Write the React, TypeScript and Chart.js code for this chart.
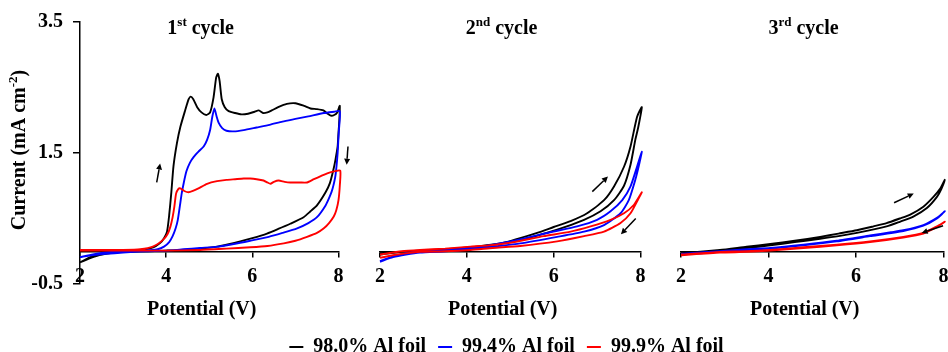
import React, { useEffect, useRef } from "react";
import { Chart, registerables } from "chart.js";

Chart.register(...registerables);

const FONT = '"Liberation Serif", "Times New Roman", serif';

// ---------------- data ----------------
const SERIES_LABELS = ["98.0% Al foil", "99.4% Al foil", "99.9% Al foil"];
const SERIES_COLORS = ["#000000", "#0000ff", "#ff0000"];
const CYCLE_TITLES: [string, string, string][] = [
  ["1", "st", " cycle"],
  ["2", "nd", " cycle"],
  ["3", "rd", " cycle"],
];
const X_AXIS_TITLE = "Potential (V)";
const Y_AXIS_TITLE: [string, string, string] = ["Current (mA cm", "-2", ")"];
const X_MIN = 2;
const X_MAX = 8;
const X_STEP = 2;
const Y_MIN = -0.5;
const Y_MAX = 3.5;
const Y_STEP = 2;
// title anchor in data units [potential, current]
const TITLE_ANCHOR = [4.8, 3.31];

// 1st cycle  [potential (V), current (mA cm-2)]
const cycle1_980: number[][] = [
  [2.0, -0.17], [2.2, -0.1], [2.4, -0.05], [2.7, -0.02], [3.0, 0.0], [3.4, 0.02], [3.7, 0.06],
  [3.85, 0.12], [3.95, 0.2], [4.02, 0.3], [4.07, 0.55], [4.12, 0.9], [4.17, 1.3], [4.25, 1.65],
  [4.33, 1.9], [4.44, 2.15], [4.52, 2.32], [4.57, 2.36], [4.63, 2.32], [4.72, 2.2], [4.82, 2.12],
  [4.93, 2.08], [5.02, 2.12], [5.1, 2.35], [5.16, 2.65], [5.2, 2.71], [5.24, 2.6], [5.29, 2.32],
  [5.36, 2.2], [5.45, 2.14], [5.6, 2.11], [5.75, 2.09], [5.9, 2.1], [6.05, 2.13], [6.15, 2.15],
  [6.25, 2.11], [6.35, 2.12], [6.45, 2.15], [6.6, 2.2], [6.8, 2.25], [7.0, 2.26], [7.2, 2.22],
  [7.35, 2.18], [7.5, 2.17], [7.65, 2.15], [7.75, 2.1], [7.82, 2.07], [7.9, 2.08], [7.97, 2.12],
  [8.03, 2.22],
  [8.01, 1.9], [7.98, 1.6], [7.93, 1.4], [7.88, 1.24], [7.8, 1.04], [7.7, 0.9], [7.5, 0.7],
  [7.35, 0.61], [7.19, 0.52], [6.88, 0.42], [6.6, 0.34], [6.34, 0.27], [6.0, 0.2], [5.72, 0.15],
  [5.4, 0.1], [5.18, 0.07], [4.79, 0.04], [4.4, 0.02], [4.0, 0.01], [3.5, 0.0], [3.0, -0.01],
  [2.6, -0.04], [2.3, -0.09], [2.0, -0.17],
];
const cycle1_994: number[][] = [
  [2.0, -0.09], [2.3, -0.05], [2.6, -0.02], [3.0, 0.0], [3.5, 0.01], [3.8, 0.03], [3.95, 0.07],
  [4.07, 0.14], [4.15, 0.23], [4.22, 0.35], [4.27, 0.48], [4.32, 0.7], [4.36, 0.88], [4.41, 1.05],
  [4.47, 1.22], [4.55, 1.35], [4.64, 1.44], [4.75, 1.52], [4.87, 1.6], [4.95, 1.7], [5.02, 1.85],
  [5.07, 2.05], [5.12, 2.18], [5.17, 2.06], [5.22, 1.96], [5.3, 1.88], [5.4, 1.84], [5.57, 1.83],
  [5.8, 1.85], [6.1, 1.89], [6.4, 1.93], [6.7, 1.98], [7.0, 2.02], [7.3, 2.06], [7.66, 2.11],
  [7.9, 2.13], [8.03, 2.14],
  [8.01, 1.85], [7.98, 1.5], [7.93, 1.16], [7.86, 0.95], [7.8, 0.84], [7.7, 0.7], [7.5, 0.52],
  [7.3, 0.43], [7.04, 0.35], [6.7, 0.28], [6.38, 0.22], [5.95, 0.16], [5.57, 0.11], [5.2, 0.07],
  [4.79, 0.05], [4.4, 0.03], [4.0, 0.01], [3.5, 0.0], [3.0, -0.02], [2.6, -0.04], [2.3, -0.06],
  [2.0, -0.09],
];
const cycle1_999: number[][] = [
  [2.0, 0.02], [2.5, 0.02], [3.0, 0.02], [3.4, 0.03], [3.69, 0.07], [3.92, 0.17], [4.03, 0.26],
  [4.1, 0.38], [4.15, 0.52], [4.19, 0.68], [4.23, 0.88], [4.28, 0.95], [4.33, 0.96], [4.42, 0.92],
  [4.52, 0.9], [4.62, 0.92], [4.75, 0.96], [4.95, 1.03], [5.18, 1.07], [5.4, 1.09], [5.6, 1.1],
  [5.8, 1.11], [5.95, 1.11], [6.1, 1.1], [6.26, 1.08], [6.35, 1.05], [6.42, 1.03], [6.5, 1.06],
  [6.61, 1.08], [6.75, 1.06], [6.88, 1.05], [7.1, 1.05], [7.27, 1.05], [7.43, 1.1], [7.6, 1.15],
  [7.74, 1.19], [7.9, 1.22], [8.04, 1.23],
  [8.03, 1.0], [8.0, 0.78], [7.95, 0.63], [7.89, 0.53], [7.78, 0.43], [7.66, 0.35], [7.5, 0.28],
  [7.27, 0.22], [7.0, 0.16], [6.73, 0.12], [6.35, 0.08], [5.95, 0.06], [5.4, 0.04], [4.79, 0.02],
  [4.0, 0.01], [3.0, 0.01], [2.0, 0.01],
];

// 2nd cycle
const cycle2_980: number[][] = [
  [2.0, -0.03], [2.5, -0.01], [2.92, 0.0], [3.5, 0.03], [4.08, 0.06], [4.85, 0.13], [5.62, 0.28],
  [6.0, 0.37], [6.39, 0.46], [6.77, 0.58], [7.16, 0.78], [7.39, 0.99], [7.62, 1.29], [7.77, 1.6],
  [7.92, 2.05], [8.03, 2.2],
  [7.95, 1.9], [7.88, 1.7], [7.77, 1.32], [7.62, 1.0], [7.39, 0.78], [7.08, 0.61], [6.7, 0.48],
  [6.08, 0.33], [5.23, 0.17], [4.6, 0.1], [4.08, 0.06], [3.5, 0.03], [2.92, 0.01], [2.5, -0.01],
  [2.0, -0.05],
];
const cycle2_994: number[][] = [
  [2.0, -0.15], [2.3, -0.08], [2.6, -0.03], [2.92, 0.0], [3.5, 0.02], [4.08, 0.05], [4.6, 0.1],
  [5.23, 0.18], [5.92, 0.29], [6.54, 0.38], [7.0, 0.48], [7.31, 0.61], [7.58, 0.78], [7.77, 0.99],
  [7.92, 1.29], [8.03, 1.52],
  [7.96, 1.3], [7.88, 1.09], [7.73, 0.78], [7.54, 0.58], [7.16, 0.4], [6.7, 0.3], [6.08, 0.22],
  [5.23, 0.12], [4.6, 0.07], [4.08, 0.03], [3.5, 0.0], [2.92, -0.02], [2.6, -0.05], [2.3, -0.09],
  [2.0, -0.16],
];
const cycle2_999: number[][] = [
  [2.0, -0.1], [2.4, -0.05], [2.92, -0.01], [3.5, 0.0], [4.08, 0.02], [4.6, 0.05], [5.23, 0.08],
  [6.08, 0.15], [6.7, 0.23], [7.16, 0.3], [7.54, 0.43], [7.77, 0.58], [7.92, 0.76], [8.03, 0.9],
  [7.85, 0.71], [7.62, 0.58], [7.31, 0.48], [6.85, 0.38], [6.39, 0.3], [5.77, 0.23], [5.0, 0.13],
  [4.5, 0.09], [4.08, 0.07], [3.5, 0.04], [2.92, 0.02], [2.5, 0.0], [2.0, -0.05],
];

// 3rd cycle
const cycle3_980: number[][] = [
  [2.0, -0.03], [2.89, 0.02], [3.5, 0.07], [4.04, 0.11], [4.6, 0.16], [5.18, 0.22], [5.6, 0.27],
  [6.02, 0.32], [6.4, 0.38], [6.7, 0.43], [7.0, 0.5], [7.24, 0.56], [7.54, 0.68], [7.77, 0.83],
  [7.93, 0.96], [8.03, 1.09],
  [7.95, 0.95], [7.85, 0.83], [7.62, 0.66], [7.31, 0.53], [7.0, 0.45], [6.7, 0.38], [6.02, 0.28],
  [5.6, 0.23], [5.18, 0.19], [4.6, 0.14], [4.04, 0.09], [3.5, 0.05], [2.89, 0.01], [2.0, -0.04],
];
const cycle3_994: number[][] = [
  [2.0, -0.04], [2.89, 0.0], [3.5, 0.03], [4.04, 0.05], [4.8, 0.1], [5.56, 0.16], [6.32, 0.24],
  [6.8, 0.29], [7.08, 0.32], [7.54, 0.4], [7.85, 0.51], [8.03, 0.61],
  [7.85, 0.5], [7.54, 0.39], [7.08, 0.31], [6.32, 0.23], [5.56, 0.15], [4.8, 0.09], [4.04, 0.04],
  [3.5, 0.02], [2.89, -0.01], [2.0, -0.05],
];
const cycle3_999: number[][] = [
  [2.0, -0.05], [2.89, -0.01], [3.5, 0.0], [4.04, 0.02], [4.8, 0.06], [5.56, 0.1], [6.32, 0.15],
  [7.08, 0.22], [7.54, 0.28], [7.85, 0.38], [8.03, 0.45],
  [7.85, 0.37], [7.54, 0.27], [7.08, 0.21], [6.32, 0.14], [5.56, 0.09], [4.8, 0.05], [4.04, 0.01],
  [3.5, -0.01], [2.89, -0.02], [2.0, -0.06],
];

// scan-direction arrows [x1, y1, x2, y2] in data units
const cycle1_arrows: number[][] = [[3.78, 1.05, 3.86, 1.34], [8.22, 1.6, 8.19, 1.32]];
const cycle2_arrows: number[][] = [[6.89, 0.91, 7.25, 1.14], [7.89, 0.5, 7.55, 0.26]];
const cycle3_arrows: number[][] = [[6.87, 0.74, 7.32, 0.88], [7.99, 0.39, 7.5, 0.28]];

const CYCLES = [
  [cycle1_980, cycle1_994, cycle1_999],
  [cycle2_980, cycle2_994, cycle2_999],
  [cycle3_980, cycle3_994, cycle3_999],
];
const ARROWS = [cycle1_arrows, cycle2_arrows, cycle3_arrows];

// ---------------- layout ----------------
const PANELS = [
  { left: 0, width: 355, padL: 0, padR: 16.5, yWidth: 80 },
  { left: 350, width: 310, padL: 30, padR: 19.5, yWidth: 0 },
  { left: 655, width: 310, padL: 26, padR: 21.5, yWidth: 0 },
];

function drawSupText(
  ctx: CanvasRenderingContext2D,
  parts: [string, string, string],
  size: number,
  supSize: number,
  rise: number
) {
  const main = `bold ${size}px ${FONT}`;
  const sup = `bold ${supSize}px ${FONT}`;
  ctx.font = main;
  const w0 = ctx.measureText(parts[0]).width;
  const w2 = ctx.measureText(parts[2]).width;
  ctx.font = sup;
  const w1 = ctx.measureText(parts[1]).width;
  const total = w0 + w1 + w2;
  let x = -total / 2;
  ctx.textAlign = "left";
  ctx.textBaseline = "alphabetic";
  ctx.font = main;
  ctx.fillText(parts[0], x, 0);
  x += w0;
  ctx.font = sup;
  ctx.fillText(parts[1], x, -rise);
  x += w1;
  ctx.font = main;
  ctx.fillText(parts[2], x, 0);
}

const panelDecor = {
  id: "panelDecor",
  afterDraw(chart: any, _args: any, opts: any) {
    if (!opts || !opts.title) return;
    const { ctx, chartArea, scales } = chart;
    const xs = scales.x;
    const ys = scales.y;
    ctx.save();
    ctx.fillStyle = "#000";
    ctx.strokeStyle = "#000";
    ctx.lineWidth = 1.5;
    for (const [x1, y1, x2, y2] of opts.arrows as number[][]) {
      const ax = xs.getPixelForValue(x1);
      const ay = ys.getPixelForValue(y1);
      const bx = xs.getPixelForValue(x2);
      const by = ys.getPixelForValue(y2);
      const ang = Math.atan2(by - ay, bx - ax);
      const hl = 6;
      const hw = 3;
      const baseX = bx - hl * Math.cos(ang);
      const baseY = by - hl * Math.sin(ang);
      ctx.beginPath();
      ctx.moveTo(ax, ay);
      ctx.lineTo(baseX, baseY);
      ctx.stroke();
      ctx.beginPath();
      ctx.moveTo(bx, by);
      ctx.lineTo(baseX + hw * Math.sin(ang), baseY - hw * Math.cos(ang));
      ctx.lineTo(baseX - hw * Math.sin(ang), baseY + hw * Math.cos(ang));
      ctx.closePath();
      ctx.fill();
    }
    // panel title with superscript
    ctx.save();
    ctx.translate(xs.getPixelForValue(TITLE_ANCHOR[0]), ys.getPixelForValue(TITLE_ANCHOR[1]));
    drawSupText(ctx, opts.title, 20, 13, 8);
    ctx.restore();
    // y-axis title
    if (opts.yTitle) {
      ctx.save();
      ctx.translate(chartArea.left - 55, (chartArea.top + chartArea.bottom) / 2 - 3);
      ctx.rotate(-Math.PI / 2);
      drawSupText(ctx, Y_AXIS_TITLE, 20, 13, 8);
      ctx.restore();
    }
    ctx.restore();
  },
};

function panelConfig(i: number): any {
  const p = PANELS[i];
  const tickFont = { family: FONT, size: 20, weight: "bold" as const };
  return {
    type: "scatter",
    data: {
      datasets: CYCLES[i].map((pts, s) => ({
        label: SERIES_LABELS[s],
        data: pts.map(([x, y]) => ({ x, y })),
        borderColor: SERIES_COLORS[s],
        backgroundColor: SERIES_COLORS[s],
        showLine: true,
        pointRadius: 0,
        pointHoverRadius: 0,
        borderWidth: 1.9,
        tension: 0.2,
        order: 3 - s,
        clip: false,
      })),
    },
    options: {
      animation: false,
      responsive: false,
      maintainAspectRatio: false,
      events: [],
      layout: { padding: { left: p.padL, right: p.padR, top: 22, bottom: 68 } },
      plugins: {
        legend: { display: false },
        tooltip: { enabled: false },
        panelDecor: { title: CYCLE_TITLES[i], arrows: ARROWS[i], yTitle: i === 0 },
      },
      scales: {
        x: {
          type: "linear",
          min: X_MIN,
          max: X_MAX,
          position: { y: 0 },
          ticks: {
            stepSize: X_STEP,
            autoSkip: false,
            maxRotation: 0,
            padding: 8.5,
            color: "#000",
            font: tickFont,
          },
          grid: {
            display: true,
            drawOnChartArea: false,
            drawTicks: true,
            tickLength: 5,
            color: "#000",
            lineWidth: 1.5,
          },
          border: { display: true, color: "#000", width: 1.5 },
          title: {
            display: true,
            text: X_AXIS_TITLE + "   ",
            color: "#000",
            font: tickFont,
            padding: { top: 1, bottom: 0 },
          },
        },
        y: {
          type: "linear",
          min: Y_MIN,
          max: Y_MAX,
          display: i === 0,
          ticks: { stepSize: Y_STEP, padding: 10, color: "#000", font: tickFont },
          grid: {
            display: true,
            drawOnChartArea: false,
            drawTicks: true,
            tickLength: 7,
            color: "#000",
            lineWidth: 1.5,
          },
          border: { display: true, color: "#000", width: 1.5 },
          afterFit: (scale: any) => {
            scale.width = p.yWidth;
          },
        },
      },
    },
    plugins: [panelDecor],
  };
}

function legendConfig(): any {
  return {
    type: "scatter",
    data: {
      datasets: SERIES_LABELS.map((label, s) => ({
        label,
        data: [],
        borderColor: SERIES_COLORS[s],
        backgroundColor: SERIES_COLORS[s],
        borderWidth: 2,
        pointStyle: "line",
      })),
    },
    options: {
      animation: false,
      responsive: false,
      maintainAspectRatio: false,
      events: [],
      layout: { padding: 0 },
      scales: { x: { display: false }, y: { display: false } },
      plugins: {
        tooltip: { enabled: false },
        legend: {
          display: true,
          position: "top",
          align: "center",
          labels: {
            usePointStyle: true,
            pointStyle: "line",
            pointStyleWidth: 14,
            padding: 12,
            color: "#000",
            font: { family: FONT, size: 20, weight: "bold" },
          },
        },
      },
    },
  };
}

export default function App() {
  const r1 = useRef<HTMLCanvasElement>(null);
  const r2 = useRef<HTMLCanvasElement>(null);
  const r3 = useRef<HTMLCanvasElement>(null);
  const rl = useRef<HTMLCanvasElement>(null);

  useEffect(() => {
    Chart.defaults.font.family = FONT;
    Chart.defaults.color = "#000";
    const refs = [r1, r2, r3];
    const charts: Chart[] = refs.map((r, i) => new Chart(r.current as HTMLCanvasElement, panelConfig(i)));
    charts.push(new Chart(rl.current as HTMLCanvasElement, legendConfig()));
    return () => charts.forEach((c) => c.destroy());
  }, []);

  const refs = [r1, r2, r3];
  return (
    <div
      style={{
        position: "fixed",
        left: 0,
        top: 0,
        width: 948,
        height: 352,
        overflow: "hidden",
        background: "#fff",
      }}
    >
      {PANELS.map((p, i) => (
        <canvas
          key={i}
          ref={refs[i]}
          width={p.width}
          height={352}
          style={{ position: "absolute", left: p.left, top: 0, width: p.width, height: 352 }}
        />
      ))}
      <canvas
        ref={rl}
        width={883}
        height={60}
        style={{ position: "absolute", left: 65, top: 325, width: 883, height: 60 }}
      />
    </div>
  );
}
